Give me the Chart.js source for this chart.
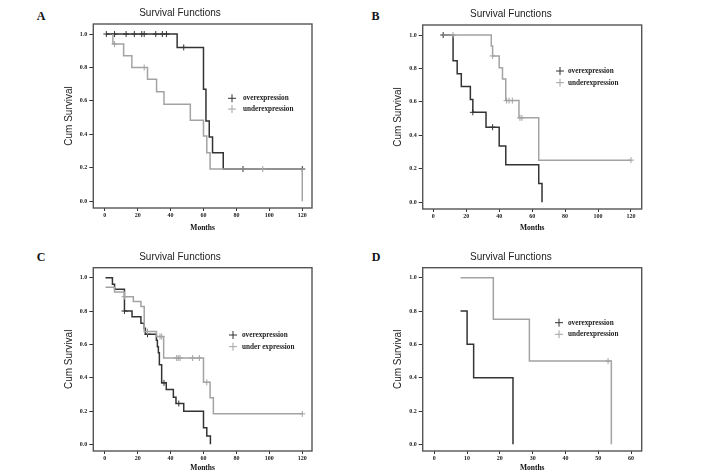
<!DOCTYPE html>
<html><head><meta charset="utf-8">
<script src="https://cdn.jsdelivr.net/npm/chart.js@4.4.0/dist/chart.umd.min.js"></script>
<style>
html,body{margin:0;padding:0;background:#fff;width:708px;height:473px;overflow:hidden;position:relative;}
canvas{position:absolute;}
.lbl{position:absolute;font:bold 12px "Liberation Serif","Times New Roman",serif;color:#111;transform:translate(-50%,-50%);line-height:1;}
</style></head><body>
<div class="lbl" style="left:41px;top:15.5px">A</div>
<div class="lbl" style="left:375.5px;top:15.5px">B</div>
<div class="lbl" style="left:41px;top:256.5px">C</div>
<div class="lbl" style="left:376px;top:256.5px">D</div>
<canvas id="cA" width="302" height="235" style="left:48px;top:0px"></canvas>
<canvas id="cB" width="309" height="235" style="left:380px;top:0px"></canvas>
<canvas id="cC" width="302" height="238" style="left:48px;top:235px"></canvas>
<canvas id="cD" width="309" height="238" style="left:380px;top:235px"></canvas>
<script>
// ---- texts and ticks ----
const chartTitle = 'Survival Functions';
const yAxisTitle = 'Cum Survival';
const xAxisTitle = 'Months';
const groupLabels = ['overexpression', 'underexpression'];
const groupLabelsC = ['overexpression', 'under expression'];
const xTicks120 = [0, 20, 40, 60, 80, 100, 120];
const xTicks60 = [0, 10, 20, 30, 40, 50, 60];
const yTicks = [0.0, 0.2, 0.4, 0.6, 0.8, 1.0];

// ---- Panel A ----
const aOverTime = [1, 44, 60, 61.5, 63.5, 65.5, 72, 120];
const aOverSurv = [1.0, 0.92, 0.67, 0.48, 0.385, 0.29, 0.193, 0.193];
const aOverCensTime = [1, 6, 13, 18, 22.5, 24, 31, 35, 37.5, 48, 84, 120];
const aOverCensSurv = [1, 1, 1, 1, 1, 1, 1, 1, 1, 0.92, 0.193, 0.193];
const aUnderTime = [5, 5, 11.5, 16.5, 26, 31.5, 36, 52, 60, 62, 64, 120];
const aUnderSurv = [1.0, 0.94, 0.87, 0.80, 0.73, 0.655, 0.58, 0.485, 0.39, 0.29, 0.193, 0.0];
const aUnderCensTime = [6, 24, 96];
const aUnderCensSurv = [0.94, 0.80, 0.193];

// ---- Panel B ----
const bOverTime = [6, 12, 14.5, 17, 22.5, 24, 32, 40, 44, 64, 66];
const bOverSurv = [1.0, 0.846, 0.769, 0.692, 0.615, 0.538, 0.449, 0.337, 0.224, 0.112, 0.0];
const bOverCensTime = [6, 24, 36];
const bOverCensSurv = [1.0, 0.538, 0.449];
const bUnderTime = [6, 35.2, 36, 40, 42, 44, 52, 64, 120];
const bUnderSurv = [1.0, 0.935, 0.875, 0.805, 0.737, 0.608, 0.505, 0.252, 0.252];
const bUnderCensTime = [12, 36, 44.5, 46, 48, 52.6, 53.8, 120];
const bUnderCensSurv = [1.0, 0.875, 0.608, 0.608, 0.608, 0.505, 0.505, 0.252];

// ---- Panel C ----
const cOverTime = [0.5, 4.7, 6, 12, 16.6, 22, 24, 24.7, 31.4, 32, 32.6, 33.2, 34.6, 37.4, 41.7, 43.3, 48, 60, 62, 64.2];
const cOverSurv = [1.0, 0.96, 0.93, 0.80, 0.765, 0.727, 0.697, 0.661, 0.625, 0.585, 0.55, 0.478, 0.369, 0.329, 0.283, 0.245, 0.199, 0.10, 0.05, 0.0];
const cOverCensTime = [12, 26, 36, 45];
const cOverCensSurv = [0.80, 0.661, 0.369, 0.245];
const cUnderTime = [0.5, 6, 12, 17.4, 22, 24, 31.4, 35.8, 60, 64, 66, 120];
const cUnderSurv = [0.942, 0.914, 0.886, 0.857, 0.827, 0.677, 0.647, 0.518, 0.372, 0.279, 0.183, 0.183];
const cUnderCensTime = [12, 26, 33.6, 34.6, 43.7, 44.7, 45.7, 53.4, 57.5, 62, 120];
const cUnderCensSurv = [0.886, 0.677, 0.647, 0.647, 0.518, 0.518, 0.518, 0.518, 0.518, 0.372, 0.183];

// ---- Panel D ----
const dOverTime = [8, 10, 12, 24];
const dOverSurv = [0.8, 0.6, 0.4, 0.0];
const dOverCensTime = [];
const dOverCensSurv = [];
const dUnderTime = [8, 18, 29, 54];
const dUnderSurv = [1.0, 0.75, 0.5, 0.0];
const dUnderCensTime = [53];
const dUnderCensSurv = [0.5];

// ---- styles ----
const DARK = '#333333';
const GREY = '#a3a3a3';
const FRAME = '#555555';
const SERIF = '"Liberation Serif","Times New Roman",serif';
const SANS = '"Liberation Sans",Arial,sans-serif';

const pts = (t, s) => t.map((v, i) => ({x: v, y: s[i]}));

function makePanel(id, d, g) {
  const framePlugin = {
    id: 'frame_' + id,
    beforeDatasetsDraw(chart) {
      const a = chart.chartArea, c = chart.ctx;
      c.save(); c.strokeStyle = FRAME; c.lineWidth = 1.4;
      c.strokeRect(a.left, a.top, a.right - a.left, a.bottom - a.top);
      c.restore();
    },
    afterDraw(chart) {
      const a = chart.chartArea, c = chart.ctx;
      c.save();
      const rows = [[d.labels[0], DARK, g.legY1], [d.labels[1], GREY, g.legY2]];
      rows.forEach(([txt, col, yy]) => {
        const y = a.top + yy, sx = a.left + g.legSx;
        c.strokeStyle = col; c.lineWidth = 1;
        c.beginPath(); c.moveTo(sx - 4, y); c.lineTo(sx + 4, y);
        c.moveTo(sx, y - 4); c.lineTo(sx, y + 4); c.stroke();
        c.fillStyle = '#222'; c.font = 'bold 7.2px ' + SERIF;
        c.textBaseline = 'middle'; c.textAlign = 'left';
        c.fillText(txt, a.left + g.legTx, y);
      });
      c.restore();
    }
  };
  new Chart(document.getElementById(id), {
    type: 'line',
    data: { datasets: [
      {label: d.labels[1], data: pts(d.underT, d.underS), borderColor: GREY, borderWidth: 1.5, stepped: true, pointRadius: 0, fill: false, order: 0},
      {label: d.labels[0], data: pts(d.overT, d.overS), borderColor: DARK, borderWidth: 1.5, stepped: true, pointRadius: 0, fill: false, order: 1},
      {label: d.labels[1] + ' censored', data: pts(d.underCT, d.underCS), showLine: false, pointStyle: 'cross', pointRadius: 3, borderColor: GREY, pointBorderWidth: 1, order: 0},
      {label: d.labels[0] + ' censored', data: pts(d.overCT, d.overCS), showLine: false, pointStyle: 'cross', pointRadius: 3, borderColor: DARK, pointBorderWidth: 1, order: 1}
    ]},
    options: {
      responsive: false, animation: false, events: [],
      layout: {padding: {left: 0, right: g.padRight, top: 0, bottom: 0}},
      plugins: {
        legend: {display: false}, tooltip: {enabled: false},
        title: {display: true, text: chartTitle, color: '#222',
          font: {family: SANS, size: 10, weight: 'normal', lineHeight: 1.2},
          padding: {top: g.titleTop, bottom: g.titleBottom}}
      },
      scales: {
        x: {type: 'linear', min: d.xMin, max: d.xMax,
          afterBuildTicks: s => { s.ticks = d.xTicks.map(v => ({value: v})); },
          afterFit: s => { s.height = g.xH; },
          grid: {drawOnChartArea: false, drawTicks: true, tickLength: 3, color: '#333', lineWidth: 1},
          border: {display: false},
          ticks: {font: {family: SERIF, size: 6, weight: 'bold', lineHeight: 1}, color: '#222', padding: 1, maxRotation: 0, autoSkip: false,
            callback: v => String(v)},
          title: {display: true, text: xAxisTitle, color: '#111', font: {family: SERIF, size: 7.5, weight: 'bold', lineHeight: 1.2}, padding: {top: 0, bottom: g.xTitlePad}}
        },
        y: {type: 'linear', min: -0.04, max: 1.06,
          afterBuildTicks: s => { s.ticks = yTicks.map(v => ({value: v})); },
          afterFit: s => { s.width = g.yW; },
          grid: {drawOnChartArea: false, drawTicks: true, tickLength: 4, color: '#333', lineWidth: 1},
          border: {display: false},
          ticks: {font: {family: SERIF, size: 6, weight: 'bold', lineHeight: 1}, color: '#222', padding: 2,
            callback: v => Number(v).toFixed(1)},
          title: {display: true, text: yAxisTitle, color: '#222', font: {family: SANS, size: 10, weight: 'normal', lineHeight: 1.2}, padding: {top: g.yTitlePad, bottom: 0}}
        }
      }
    },
    plugins: [framePlugin]
  });
}

makePanel('cA',
  {labels: groupLabels, overT: aOverTime, overS: aOverSurv, overCT: aOverCensTime, overCS: aOverCensSurv,
   underT: aUnderTime, underS: aUnderSurv, underCT: aUnderCensTime, underCS: aUnderCensSurv, xTicks: xTicks120, xMin: -6.92, xMax: 125.9},
  {yW: 45.3, padRight: 38, titleTop: 7.3, titleBottom: 4.7, xH: 27, xTitlePad: 2.2, yTitlePad: 15, legSx: 138.7, legTx: 149.7, legY1: 74.3, legY2: 85});
makePanel('cB',
  {labels: groupLabels, overT: bOverTime, overS: bOverSurv, overCT: bOverCensTime, overCS: bOverCensSurv,
   underT: bUnderTime, underS: bUnderSurv, underCT: bUnderCensTime, underCS: bUnderCensSurv, xTicks: xTicks120, xMin: -6.43, xMax: 126.5},
  {yW: 42.7, padRight: 47.3, titleTop: 8, titleBottom: 5, xH: 26, xTitlePad: 2.2, yTitlePad: 12.3, legSx: 137.3, legTx: 145.3, legY1: 46, legY2: 57.7});
makePanel('cC',
  {labels: groupLabelsC, overT: cOverTime, overS: cOverSurv, overCT: cOverCensTime, overCS: cOverCensSurv,
   underT: cUnderTime, underS: cUnderSurv, underCT: cUnderCensTime, underCS: cUnderCensSurv, xTicks: xTicks120, xMin: -6.92, xMax: 125.9},
  {yW: 45.3, padRight: 38, titleTop: 16.3, titleBottom: 4.4, xH: 22, xTitlePad: 0.8, yTitlePad: 15, legSx: 139.7, legTx: 148.7, legY1: 67.3, legY2: 79});
makePanel('cD',
  {labels: groupLabels, overT: dOverTime, overS: dOverSurv, overCT: dOverCensTime, overCS: dOverCensSurv,
   underT: dUnderTime, underS: dUnderSurv, underCT: dUnderCensTime, underCS: dUnderCensSurv, xTicks: xTicks60, xMin: -3.54, xMax: 63.26},
  {yW: 42.7, padRight: 47.3, titleTop: 16.7, titleBottom: 4, xH: 22, xTitlePad: 0.8, yTitlePad: 12.3, legSx: 136.3, legTx: 145.3, legY1: 55, legY2: 66.6});
</script>
</body></html>
